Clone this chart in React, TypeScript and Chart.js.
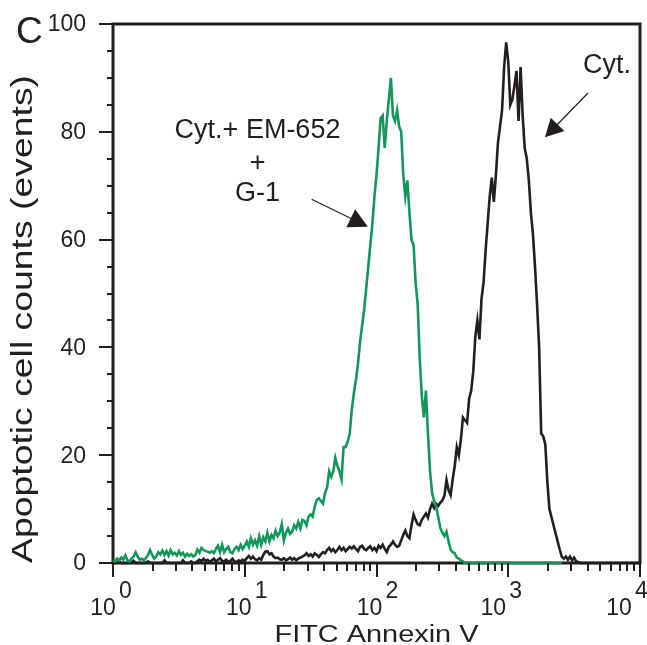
import React, { useEffect, useRef } from "react";
import { Chart, registerables } from "chart.js";

Chart.register(...registerables);

const FONT = '"Liberation Sans", Arial, Helvetica, sans-serif';
const INK = "#231f20";
const GREEN = "#12965a";

// Histogram channels: 64 channels per decade, 4 decades (10^0 .. 10^4)
const CHANNELS_PER_DECADE = 64;
const X_DECADES = [0, 1, 2, 3, 4];
const X_MINOR_MULTIPLIERS = [2, 3, 4, 5, 6, 7, 8, 9];
const Y_MAJOR = [0, 20, 40, 60, 80, 100];
const Y_MINOR = [5, 10, 15, 25, 30, 35, 45, 50, 55, 65, 70, 75, 85, 90, 95];

const SERIES_NAMES = ["Cyt.+ EM-652 + G-1", "Cyt."];

// Cyt. + EM-652 + G-1 (green), counts per channel
const GREEN_COUNTS = [
  0.5, 0.3, 0.8, 0.5, 1.0, 0.6, 1.4, 0.5, 0.3, 0.8,
  1.2, 2.0, 1.2, 0.6, 0.8, 0.5, 0.9, 1.5, 2.4, 1.5,
  0.8, 1.2, 2.0, 1.6, 2.3, 1.5, 2.2, 1.4, 2.4, 1.6,
  1.9, 1.4, 2.2, 1.5, 1.9, 1.2, 1.7, 1.3, 1.6, 1.2,
  1.5, 2.5, 1.9, 2.8, 2.4, 2.2, 2.1, 1.9, 2.2, 1.8,
  2.6, 3.2, 2.0, 3.4, 2.0, 2.6, 3.0, 2.0, 1.8, 2.6,
  3.0, 2.4, 3.4, 2.6, 3.2, 4.0, 3.0, 4.6, 3.4, 4.2,
  3.2, 5.0, 3.4, 4.8, 4.0, 5.6, 4.0, 5.2, 4.6, 6.0,
  5.0, 5.6, 7.2, 4.2, 5.6, 6.4, 5.4, 5.8, 7.0, 6.4,
  7.6, 6.4, 8.0, 7.8, 7.0, 8.6, 9.0, 8.6, 10.5, 11.7,
  12.0, 11.5, 11.0, 13.0, 14.0, 17.0, 16.0, 17.0, 19.5, 18.0,
  17.0, 15.5, 21.5, 21.5, 22.5, 24.0, 28.5, 31.5, 34.0, 37.0,
  41.0, 44.0, 47.0, 51.0, 55.0, 59.0, 63.0, 68.0, 72.0, 77.0,
  82.5, 83.0, 77.0, 82.0, 86.0, 90.0, 83.0, 82.0, 84.0, 81.0,
  80.0, 72.0, 68.0, 71.0, 65.0, 60.0, 59.0, 52.0, 48.0, 38.0,
  31.0, 27.0, 32.0, 24.0, 17.0, 13.0, 11.5, 10.4, 8.5, 6.5,
  5.6, 5.0, 5.8, 4.0, 2.5, 2.0, 1.8, 1.0, 0.8, 0.5,
  0.3, 0, 0, 0, 0, 0, 0, 0, 0, 0,
  0, 0, 0, 0, 0, 0, 0, 0, 0, 0,
  0, 0, 0, 0, 0, 0, 0, 0, 0, 0,
  0, 0, 0, 0, 0, 0, 0, 0, 0, 0,
  0, 0, 0, 0, 0, 0, 0, 0, 0,
];

// Cyt. (black), counts per channel
const BLACK_COUNTS = [
  0, 0, 0, 0.3, 0, 0, 0, 0, 0, 0,
  0.4, 0, 0, 0, 0, 0, 0, 0.3, 0, 0,
  0, 0, 0, 0, 0, 0.5, 0, 0, 0, 0,
  0, 0, 0, 0, 0.5, 0, 0, 0, 0.3, 0,
  0, 0.3, 0.6, 0.3, 0.8, 0.4, 0.6, 0.2, 0.5, 0.8,
  0.3, 0.6, 0.9, 0.4, 0.3, 0.6, 0.2, 0.4, 0.8, 0.3,
  0.2, 0.5, 0.3, 0.6, 0.4, 0.9, 1.3, 0.8, 1.2, 0.7,
  0.5, 0.9, 0.6, 1.5, 2.1, 2.2, 1.6, 1.8, 1.2, 0.9,
  1.0, 0.7, 0.6, 0.9, 0.5, 0.7, 1.0, 0.6, 0.9, 0.5,
  0.8, 1.0, 1.2, 1.4, 1.8, 1.3, 1.6, 1.2, 1.8, 1.5,
  1.1, 1.6, 2.0, 1.8, 2.4, 2.8, 2.2, 2.6, 2.0, 2.4,
  3.0, 2.4, 2.8, 2.2, 2.6, 3.0, 2.7, 3.1, 2.6, 2.2,
  3.0, 3.2, 2.6, 2.4, 2.8, 3.1, 2.4, 2.8, 2.2, 3.2,
  2.8, 3.4, 2.6, 2.0, 3.0, 3.4, 4.0, 3.4, 3.0, 3.2,
  4.2, 5.2, 6.0, 5.0, 4.6, 7.0, 9.0, 8.0, 7.2, 7.0,
  8.0, 8.6, 9.2, 8.4, 10.0, 11.0, 10.2, 11.0, 10.6, 11.2,
  11.6, 12.5, 15.4, 13.5, 12.6, 15.5, 18.0, 21.5, 20.0, 23.0,
  27.0, 26.5, 26.0, 30.5, 32.0, 35.5, 42.0, 45.0, 41.5, 49.0,
  52.0, 58.0, 63.0, 68.0, 71.5, 67.0, 72.0, 78.0, 81.0, 84.0,
  92.0, 96.6, 93.0, 85.0, 86.0, 88.5, 91.3, 82.0, 92.0, 83.0,
  77.0, 75.0, 71.0, 65.0, 61.0, 55.0, 48.0, 40.0, 24.0, 23.5,
  22.0, 15.0, 10.0, 8.5, 7.0, 5.5, 4.0, 2.5, 1.2, 0.8,
  1.2, 0.6, 1.2, 0.5, 1.0, 0.3, 0.2, 0, 0, 0,
  0, 0, 0, 0, 0, 0, 0, 0, 0, 0,
  0, 0, 0, 0, 0, 0, 0, 0, 0, 0,
  0, 0, 0, 0, 0, 0, 0,
];

const toPoints = (counts: number[]) =>
  counts.map((y, j) => ({ x: Math.pow(10, j / CHANNELS_PER_DECADE), y }));

function arrow(ctx: CanvasRenderingContext2D, x0: number, y0: number, x1: number, y1: number, headLen: number, headW: number) {
  const dx = x1 - x0, dy = y1 - y0;
  const len = Math.hypot(dx, dy);
  const ux = dx / len, uy = dy / len;
  const bx = x1 - ux * headLen, by = y1 - uy * headLen;
  ctx.save();
  ctx.strokeStyle = INK;
  ctx.fillStyle = INK;
  ctx.lineWidth = 1.2;
  ctx.beginPath();
  ctx.moveTo(x0, y0);
  ctx.lineTo(bx + ux * 2, by + uy * 2);
  ctx.stroke();
  ctx.beginPath();
  ctx.moveTo(x1, y1);
  ctx.lineTo(bx - uy * headW / 2, by + ux * headW / 2);
  ctx.lineTo(bx + uy * headW / 2, by - ux * headW / 2);
  ctx.closePath();
  ctx.fill();
  ctx.restore();
}

const decorPlugin = {
  id: "decor",
  beforeDatasetsDraw(chart: any) {
    const { ctx, chartArea } = chart;
    const { left, right, top, bottom } = chartArea;
    ctx.save();
    ctx.strokeStyle = INK;
    ctx.lineWidth = 3;
    ctx.strokeRect(left, top, right - left, bottom - top);
    ctx.restore();
  },
  afterDraw(chart: any) {
    const { ctx, chartArea } = chart;
    const { left, bottom } = chartArea;
    const xs = chart.scales.x;
    const ys = chart.scales.y;
    ctx.save();
    ctx.strokeStyle = INK;
    ctx.fillStyle = INK;
    ctx.lineWidth = 2;

    // Y ticks
    ctx.beginPath();
    Y_MAJOR.forEach((v) => {
      const y = Math.round(ys.getPixelForValue(v));
      ctx.moveTo(left - 14, y);
      ctx.lineTo(left, y);
    });
    Y_MINOR.forEach((v) => {
      const y = Math.round(ys.getPixelForValue(v));
      ctx.moveTo(left - 6, y);
      ctx.lineTo(left, y);
    });
    // X ticks
    X_DECADES.forEach((e) => {
      const x = Math.round(xs.getPixelForValue(Math.pow(10, e)));
      ctx.moveTo(x, bottom);
      ctx.lineTo(x, bottom + 14);
    });
    X_DECADES.slice(0, -1).forEach((e) => {
      X_MINOR_MULTIPLIERS.forEach((m) => {
        const x = Math.round(xs.getPixelForValue(m * Math.pow(10, e)));
        ctx.moveTo(x, bottom);
        ctx.lineTo(x, bottom + 8);
      });
    });
    ctx.stroke();

    // Y tick labels
    ctx.font = `23px ${FONT}`;
    ctx.textAlign = "right";
    ctx.textBaseline = "middle";
    Y_MAJOR.forEach((v) => {
      ctx.fillText(String(v), left - 27, ys.getPixelForValue(v) + 1);
    });

    // X tick labels: 10 with exponent
    ctx.textBaseline = "alphabetic";
    ctx.textAlign = "left";
    const shifts = [-2, 2, 1, -7, -13];
    X_DECADES.forEach((e, i) => {
      const x = xs.getPixelForValue(Math.pow(10, e));
      const wBase = ctx.measureText("10").width;
      const wExp = ctx.measureText(String(e)).width;
      const total = wBase + 3 + wExp;
      const x0 = x - total / 2 + shifts[i];
      ctx.fillText("10", x0, bottom + 52);
      ctx.fillText(String(e), x0 + wBase + 3, bottom + 35);
    });

    // X axis title (horizontally stretched as in the reference)
    ctx.save();
    ctx.font = `23px ${FONT}`;
    const xTitle = "FITC Annexin V";
    const wx = ctx.measureText(xTitle).width;
    ctx.translate((chartArea.left + chartArea.right) / 2, 642);
    ctx.scale(204 / wx, 1);
    ctx.textAlign = "center";
    ctx.fillText(xTitle, 0, 0);
    ctx.restore();

    // Y axis title
    ctx.save();
    ctx.font = `30px ${FONT}`;
    const yTitle = "Apoptotic cell counts (events)";
    const w = ctx.measureText(yTitle).width;
    ctx.translate(32, bottom);
    ctx.rotate(-Math.PI / 2);
    ctx.scale(488 / w, 1);
    ctx.textAlign = "left";
    ctx.fillText(yTitle, 0, 0);
    ctx.restore();

    // Panel letter
    ctx.font = `37px ${FONT}`;
    ctx.textAlign = "left";
    ctx.fillText("C", 16, 43);

    // Annotations (positions in data space)
    ctx.font = `27px ${FONT}`;
    ctx.textAlign = "center";
    const cx = xs.getPixelForValue(12.5);
    ctx.fillText("Cyt.+ EM-652", cx, ys.getPixelForValue(78.9));
    ctx.fillText("+", cx, ys.getPixelForValue(72.7));
    ctx.fillText("G-1", cx, ys.getPixelForValue(67.2));
    ctx.textAlign = "left";
    ctx.fillText(SERIES_NAMES[1], xs.getPixelForValue(3690), ys.getPixelForValue(90.9));

    arrow(ctx, xs.getPixelForValue(32.2), ys.getPixelForValue(67.5), xs.getPixelForValue(86), ys.getPixelForValue(62.4), 19, 20);
    arrow(ctx, xs.getPixelForValue(4030), ys.getPixelForValue(87.2), xs.getPixelForValue(1901), ys.getPixelForValue(79.0), 18, 19);

    ctx.restore();
  },
};

export default function App() {
  const ref = useRef<HTMLCanvasElement | null>(null);
  useEffect(() => {
    if (!ref.current) return;
    const chart = new Chart(ref.current, {
      type: "line",
      data: {
        datasets: [
          {
            label: SERIES_NAMES[0],
            data: toPoints(GREEN_COUNTS),
            borderColor: GREEN,
            borderWidth: 2.6,
            pointRadius: 0,
            tension: 0,
            clip: false as any,
          },
          {
            label: SERIES_NAMES[1],
            data: toPoints(BLACK_COUNTS),
            borderColor: INK,
            borderWidth: 2.6,
            pointRadius: 0,
            tension: 0,
            clip: false as any,
          },
        ],
      },
      options: {
        animation: false,
        responsive: false,
        layout: { padding: { left: 113, right: 7, top: 24, bottom: 82 } },
        scales: {
          x: { type: "logarithmic", min: 1, max: 10000, display: false },
          y: { type: "linear", min: 0, max: 100, display: false },
        },
        plugins: { legend: { display: false }, tooltip: { enabled: false } },
      },
      plugins: [decorPlugin],
    });
    return () => chart.destroy();
  }, []);
  return (
    <div style={{ position: "fixed", left: 0, top: 0, width: 647, height: 645, background: "#fff" }}>
      <canvas ref={ref} width={647} height={645} style={{ width: 647, height: 645, display: "block" }} />
    </div>
  );
}
